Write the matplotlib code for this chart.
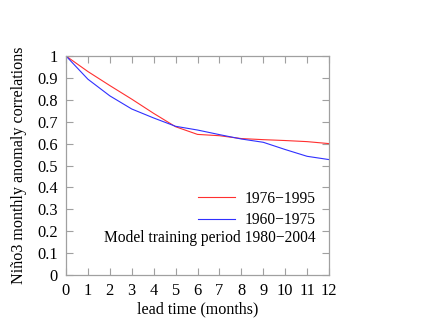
import matplotlib
matplotlib.use('Agg')
import matplotlib.pyplot as plt
import numpy as np

plt.rcParams['font.family'] = ['Liberation Serif', 'DejaVu Serif']

lead = np.arange(0, 13)
corr_7695 = [1.0, 0.929, 0.865, 0.803, 0.738, 0.677, 0.642, 0.636, 0.623, 0.618, 0.614, 0.609, 0.600]
corr_6075 = [1.0, 0.894, 0.818, 0.758, 0.717, 0.679, 0.662, 0.641, 0.621, 0.606, 0.573, 0.542, 0.527]
label_7695 = '1976\u22121995'
label_6075 = '1960\u22121975'
note = 'Model training period 1980\u22122004'

fs = 11.2

fig = plt.figure(figsize=(4.3, 3.32), dpi=100)
ax = fig.add_axes([66/430, 1 - 275/332, 263/430, 219/332])

ax.plot(lead, corr_7695, color='#ff3030', linewidth=0.8, label=label_7695)
ax.plot(lead, corr_6075, color='#3030ff', linewidth=0.8, label=label_6075)

ax.set_xlim(0, 12)
ax.set_ylim(0, 1)
ax.set_xticks(range(0, 13))
ax.set_yticks(np.arange(0, 1.01, 0.1))
ax.set_yticklabels(['0', '0.1', '0.2', '0.3', '0.4', '0.5', '0.6', '0.7', '0.8', '0.9', '1'])

for s in ax.spines.values():
    s.set_color('#a0a0a0')
    s.set_linewidth(0.9)
ax.tick_params(direction='in', length=5, width=0.8, color='#a0a0a0',
               top=True, right=True, labelsize=fs + 0.6, pad=6)

ax.set_xlabel('lead time (months)', fontsize=fs + 0.4, labelpad=1.5)
ax.set_ylabel('Niño3 monthly anomaly correlations', fontsize=fs + 0.4, labelpad=7)

leg = ax.legend(loc='lower right', bbox_to_anchor=(0.95, 0.213), frameon=False,
                fontsize=fs, handlelength=2.35, handletextpad=0.65,
                labelspacing=0.35, borderpad=0, borderaxespad=0)
ax.text(0.95, 0.168, note, transform=ax.transAxes, ha='right', va='center', fontsize=fs)

fig.savefig('out.png', dpi=100)
